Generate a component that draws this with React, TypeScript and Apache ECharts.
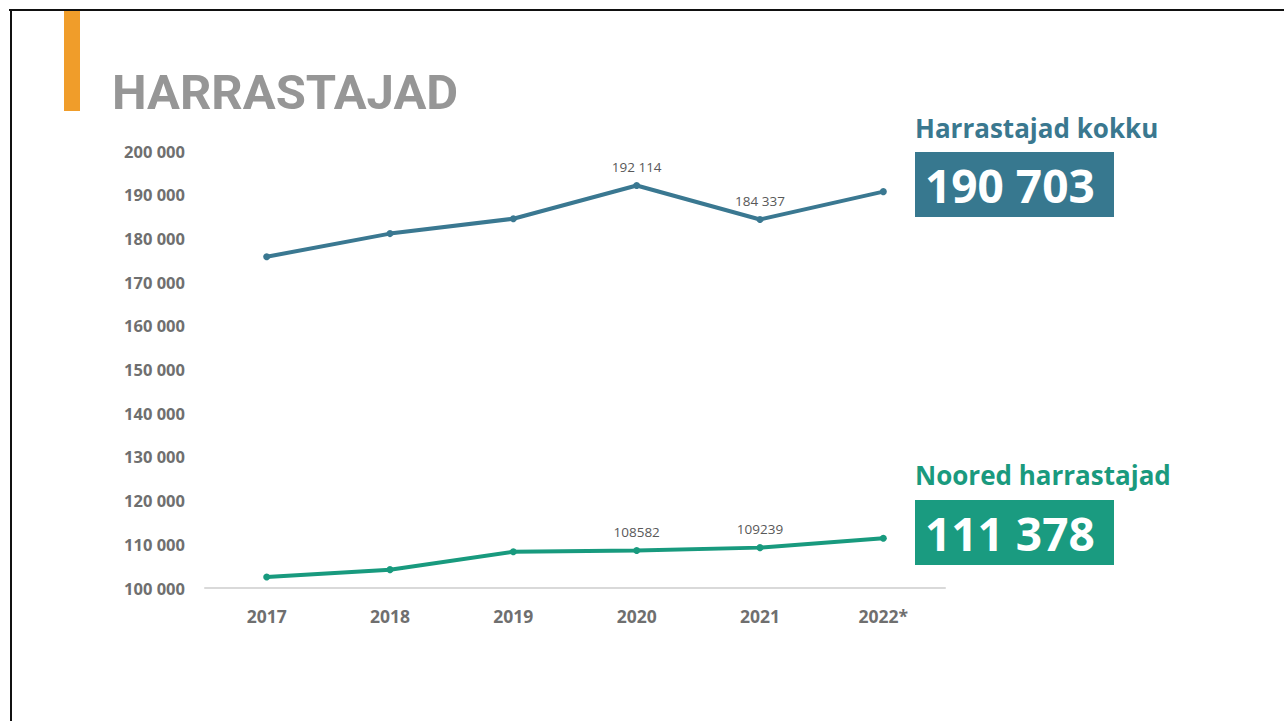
import React, { useEffect, useRef } from "react";
import * as echarts from "echarts";

const years = ["2017", "2018", "2019", "2020", "2021", "2022*"];
const totalValues = [175800, 181100, 184500, 192114, 184337, 190703];
const youthValues = [102500, 104200, 108300, 108582, 109239, 111378];
const labelledIndexes = [3, 4];
const totalTitle = "Harrastajad kokku";
const youthTitle = "Noored harrastajad";
const totalBig = "190 703";
const youthBig = "111 378";
const pageTitle = "HARRASTAJAD";

const fmtSpace = (v: number) => String(v).replace(/\B(?=(\d{3})+(?!\d))/g, " ");

export default function App() {
  const ref = useRef<HTMLDivElement>(null);
  useEffect(() => {
    if (!ref.current) return;
    const chart = echarts.init(ref.current, null, { renderer: "svg" });
    const font = "'Open Sans', 'Noto Sans', sans-serif";
    chart.setOption({
      animation: false,
      backgroundColor: "#ffffff",
      grid: { left: 205, right: 339, top: 151, bottom: 133, containLabel: false },
      xAxis: {
        type: "category",
        data: years,
        boundaryGap: true,
        axisLine: { show: true, lineStyle: { color: "#d9d9d9", width: 2 } },
        axisTick: { show: false },
        axisLabel: { color: "#6f6f6f", fontSize: 17.5, fontWeight: "bold", fontFamily: font, margin: 19 },
      },
      yAxis: {
        type: "value",
        min: 100000,
        max: 200000,
        interval: 10000,
        axisLine: { show: false },
        axisTick: { show: false },
        splitLine: { show: false },
        axisLabel: {
          color: "#6f6f6f",
          fontSize: 16.5,
          fontWeight: "bold",
          fontFamily: font,
          margin: 20,
          formatter: (v: number) => fmtSpace(v),
        },
      },
      series: [
        {
          type: "line",
          data: totalValues.map((v, i) => ({
            value: v,
            label: {
              show: labelledIndexes.includes(i),
              position: "top",
              distance: 8,
              formatter: fmtSpace(v),
              color: "#595959",
              fontSize: 13.5,
              fontFamily: font,
            },
          })),
          symbol: "circle",
          symbolSize: 7,
          lineStyle: { color: "#3a7891", width: 4 },
          itemStyle: { color: "#3a7891" },
        },
        {
          type: "line",
          data: youthValues.map((v, i) => ({
            value: v,
            label: {
              show: labelledIndexes.includes(i),
              position: "top",
              distance: 8,
              formatter: String(v),
              color: "#595959",
              fontSize: 13.5,
              fontFamily: font,
            },
          })),
          symbol: "circle",
          symbolSize: 7,
          lineStyle: { color: "#189a7e", width: 4 },
          itemStyle: { color: "#189a7e" },
        },
      ],
      graphic: [
        { type: "line", shape: { x1: 9, y1: 10, x2: 1284, y2: 10 }, style: { stroke: "#111", lineWidth: 2 } },
        { type: "line", shape: { x1: 11, y1: 9, x2: 11, y2: 721 }, style: { stroke: "#111", lineWidth: 2 } },
        { type: "rect", shape: { x: 64, y: 11, width: 16, height: 100 }, style: { fill: "#f09d2a" } },
        {
          type: "text",
          x: 112,
          y: 92,
          style: {
            text: pageTitle,
            fill: "#969696",
            font: "bold 49px Roboto, sans-serif",
            textVerticalAlign: "middle",
          },
        },
        {
          type: "text",
          x: 915,
          y: 128,
          style: {
            text: totalTitle,
            fill: "#3a788f",
            font: `bold 26px ${font}`,
            textVerticalAlign: "middle",
          },
        },
        { type: "rect", shape: { x: 915, y: 152, width: 199, height: 65 }, style: { fill: "#37788f" } },
        {
          type: "text",
          x: 925,
          y: 185,
          style: {
            text: totalBig,
            fill: "#ffffff",
            font: `bold 46px ${font}`,
            textVerticalAlign: "middle",
          },
        },
        {
          type: "text",
          x: 915,
          y: 475,
          style: {
            text: youthTitle,
            fill: "#1a9a7e",
            font: `bold 26px ${font}`,
            textVerticalAlign: "middle",
          },
        },
        { type: "rect", shape: { x: 915, y: 500, width: 199, height: 65 }, style: { fill: "#1a9b80" } },
        {
          type: "text",
          x: 925,
          y: 533,
          style: {
            text: youthBig,
            fill: "#ffffff",
            font: `bold 46px ${font}`,
            textVerticalAlign: "middle",
          },
        },
      ],
    });
    return () => chart.dispose();
  }, []);
  return (
    <div
      ref={ref}
      style={{ position: "absolute", left: 0, top: 0, width: 1284, height: 721 }}
    />
  );
}
